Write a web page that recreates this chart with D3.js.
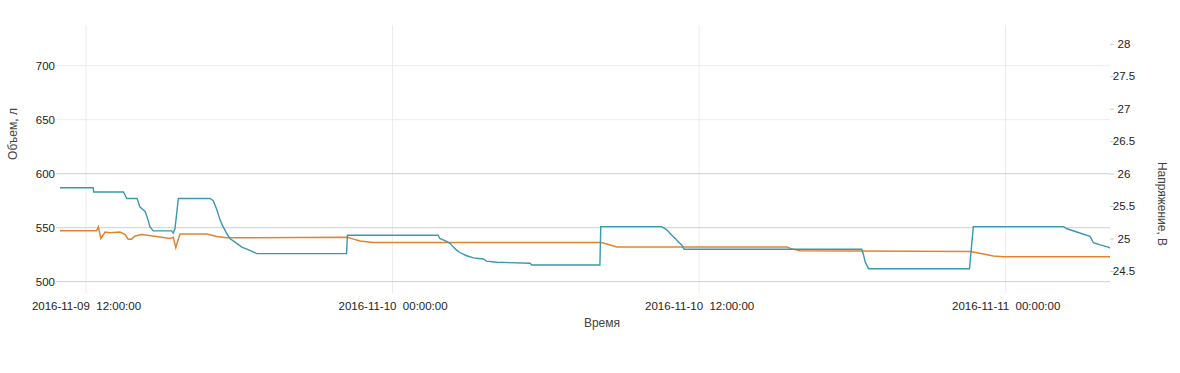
<!DOCTYPE html>
<html>
<meta charset="utf-8">
<script src="https://cdn.jsdelivr.net/npm/d3@7/dist/d3.min.js"></script>
<style>
body { margin: 0; background: #fff; }
svg { font-family: "Liberation Sans", Arial, sans-serif; }
.tick text { fill: #222; font-size: 11.5px; }
.ttl { fill: #444; font-size: 12px; }
</style>
<body>
<svg id="chart" width="1180" height="373"></svg>
<script>
// объем топлива, л (левая ось)
const volTimes = ["2016-11-09 10:59","2016-11-09 12:17","2016-11-09 12:18","2016-11-09 13:28","2016-11-09 13:36","2016-11-09 14:00",
  "2016-11-09 14:07","2016-11-09 14:19","2016-11-09 14:26","2016-11-09 14:30","2016-11-09 14:38","2016-11-09 15:21","2016-11-09 15:25",
  "2016-11-09 15:29","2016-11-09 15:37","2016-11-09 16:51","2016-11-09 16:59","2016-11-09 17:07","2016-11-09 17:15","2016-11-09 17:22",
  "2016-11-09 17:30","2016-11-09 17:38","2016-11-09 17:54","2016-11-09 18:06","2016-11-09 18:25","2016-11-09 18:41","2016-11-09 22:12",
  "2016-11-09 22:14","2016-11-10 01:47","2016-11-10 01:51","2016-11-10 02:03","2016-11-10 02:15","2016-11-10 02:23","2016-11-10 02:31",
  "2016-11-10 02:38","2016-11-10 02:54","2016-11-10 03:10","2016-11-10 03:33","2016-11-10 03:41","2016-11-10 04:05","2016-11-10 05:23",
  "2016-11-10 05:27","2016-11-10 08:07","2016-11-10 08:09","2016-11-10 10:32","2016-11-10 10:44","2016-11-10 10:56","2016-11-10 11:04",
  "2016-11-10 11:11","2016-11-10 11:19","2016-11-10 11:25","2016-11-10 18:22","2016-11-10 18:26","2016-11-10 18:30","2016-11-10 18:38",
  "2016-11-10 22:35","2016-11-10 22:44","2016-11-11 02:16","2016-11-11 02:24","2016-11-11 02:47","2016-11-11 03:18","2016-11-11 03:26",
  "2016-11-11 03:42","2016-11-11 04:01","2016-11-11 04:05"];
const volValues = [587,587,583,583,577,577,
  569,565,557,551,547,547,545,
  549,577,577,575,567,557,551,
  545,540,535.5,532,529,526,526,
  543,543,540,538,535.5,532,529,
  527,524,522,521,519,518,517,
  515.5,515.5,551,551,548,543,540,
  537,534,530,530,525,518.5,512,
  512,551,551,549,546,542,536,
  534,532,531];

// напряжение, В (правая ось)
const voltTimes = ["2016-11-09 10:59","2016-11-09 12:25","2016-11-09 12:29","2016-11-09 12:35","2016-11-09 12:45","2016-11-09 12:56",
  "2016-11-09 13:20","2016-11-09 13:32","2016-11-09 13:39","2016-11-09 13:47","2016-11-09 13:55","2016-11-09 14:11","2016-11-09 14:46",
  "2016-11-09 15:17","2016-11-09 15:25","2016-11-09 15:31","2016-11-09 15:35","2016-11-09 15:41","2016-11-09 16:44","2016-11-09 17:07",
  "2016-11-09 17:30","2016-11-09 22:14","2016-11-09 22:28","2016-11-09 22:44","2016-11-09 22:59","2016-11-09 23:15","2016-11-10 08:07",
  "2016-11-10 08:15","2016-11-10 08:31","2016-11-10 08:47","2016-11-10 09:02","2016-11-10 15:26","2016-11-10 15:38","2016-11-10 15:57",
  "2016-11-10 22:37","2016-11-10 22:52","2016-11-10 23:08","2016-11-10 23:31","2016-11-10 23:55","2016-11-11 04:05"];
const voltValues = [25.12,25.12,25.18,25.00,25.10,25.09,
  25.10,25.06,24.99,24.99,25.04,25.06,25.03,
  25.00,25.02,24.86,24.95,25.07,25.07,25.03,
  25.01,25.02,24.99,24.96,24.95,24.94,24.94,
  24.93,24.90,24.87,24.87,24.87,24.84,24.81,
  24.80,24.78,24.76,24.73,24.72,24.72];

const xTickLabels = ["2016-11-09 12:00","2016-11-10 00:00","2016-11-10 12:00","2016-11-11 00:00"];
const leftTicks = [500, 550, 600, 650, 700];
const rightTicks = [24.5, 25, 25.5, 26, 26.5, 27, 27.5, 28];

const parse = d3.timeParse("%Y-%m-%d %H:%M");
const fmt = d3.timeFormat("%Y-%m-%d  %H:%M:%S");

const svg = d3.select("#chart");
const mLeft = 60, mRight = 1110, mTop = 25, mBottom = 293;

const x = d3.scaleTime()
  .domain([parse("2016-11-09 10:59"), parse("2016-11-11 04:05")])
  .range([mLeft, mRight]);
const yL = d3.scaleLinear().domain([489.5, 737.7]).range([mBottom, mTop]);
const yR = d3.scaleLinear().domain([24.16, 28.29]).range([mBottom, mTop]);

// сетка
svg.append("g")
  .selectAll("line")
  .data(xTickLabels.map(parse))
  .join("line")
  .attr("x1", d => x(d)).attr("x2", d => x(d))
  .attr("y1", mTop).attr("y2", mBottom)
  .attr("stroke", "#ececec");

svg.append("g")
  .selectAll("line")
  .data(leftTicks)
  .join("line")
  .attr("x1", mLeft - 4).attr("x2", mRight)
  .attr("y1", d => yL(d)).attr("y2", d => yL(d))
  .attr("stroke", d => d >= 650 ? "#ececec" : "#d0d0d0");

// оси
const gx = svg.append("g")
  .attr("transform", "translate(0," + (mBottom + 5) + ")")
  .call(d3.axisBottom(x).tickValues(xTickLabels.map(parse)).tickFormat(fmt).tickSize(0).tickPadding(4));
gx.select(".domain").remove();
gx.selectAll("text").style("white-space", "pre");

const gl = svg.append("g")
  .attr("transform", "translate(" + mLeft + ",0)")
  .call(d3.axisLeft(yL).tickValues(leftTicks).tickSize(0).tickPadding(5));
gl.select(".domain").remove();

const gr = svg.append("g")
  .attr("transform", "translate(" + mRight + ",0)")
  .call(d3.axisRight(yR).tickValues(rightTicks).tickFormat(d => String(d)).tickSize(4).tickPadding(0));
gr.select(".domain").remove();
gr.selectAll("line").attr("stroke", "#ccc");
gr.selectAll("text").attr("text-anchor", "middle").attr("x", 14);

// линии
const volData = volTimes.map((t, i) => [parse(t), volValues[i]]);
const voltData = voltTimes.map((t, i) => [parse(t), voltValues[i]]);

svg.append("path")
  .datum(voltData)
  .attr("fill", "none")
  .attr("stroke", "#e4832e")
  .attr("stroke-width", 1.5)
  .attr("d", d3.line().x(d => x(d[0])).y(d => yR(d[1])));

svg.append("path")
  .datum(volData)
  .attr("fill", "none")
  .attr("stroke", "#3a97b0")
  .attr("stroke-width", 1.4)
  .attr("d", d3.line().x(d => x(d[0])).y(d => yL(d[1])));

// подписи осей
svg.append("text").attr("class", "ttl")
  .attr("x", 602).attr("y", 327).attr("text-anchor", "middle").text("Время");
svg.append("text").attr("class", "ttl")
  .attr("transform", "translate(17,134) rotate(-90)").attr("text-anchor", "middle").text("Объем, л");
svg.append("text").attr("class", "ttl")
  .attr("transform", "translate(1158,204) rotate(90)").attr("text-anchor", "middle").text("Напряжение, В");
</script>
</body>
</html>
